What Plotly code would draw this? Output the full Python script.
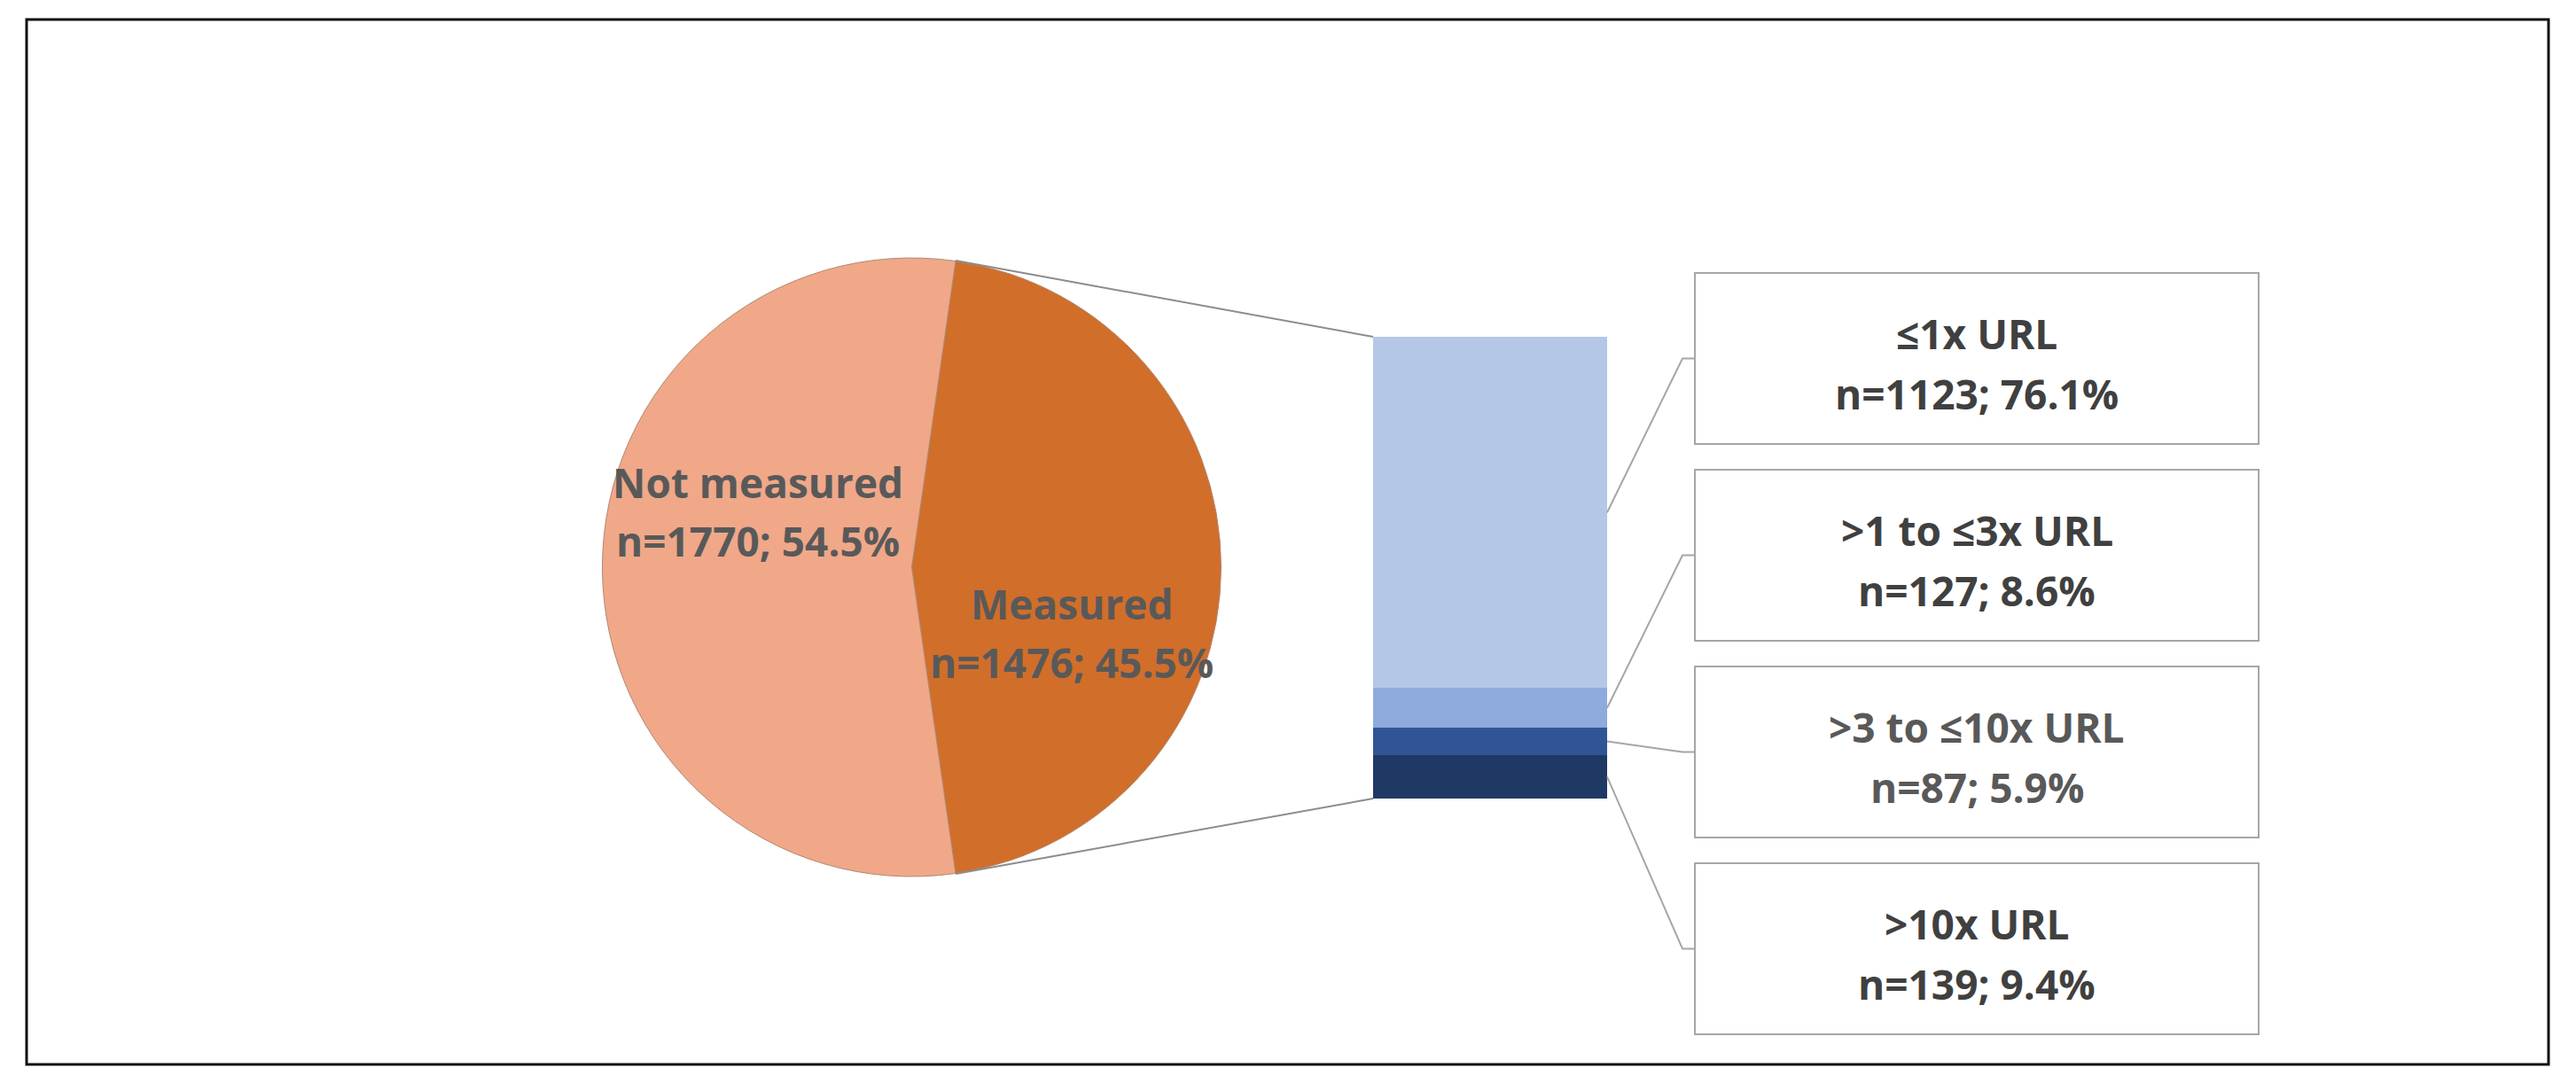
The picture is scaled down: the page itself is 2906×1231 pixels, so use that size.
import math
import plotly.graph_objects as go

# data
pie_labels = ["Measured", "Not measured"]
pie_values = [1476, 1770]
pie_pct = [45.5, 54.5]
pie_colors = ["#D16E2A", "#F0A889"]

bar_labels = ["≤1x URL", ">1 to ≤3x URL", ">3 to ≤10x URL", ">10x URL"]
bar_values = [1123, 127, 87, 139]
bar_pct = [76.1, 8.6, 5.9, 9.4]
bar_colors = ["#B4C7E7", "#8FAADC", "#2F5597", "#203864"]
box_text_colors = ["#404040", "#404040", "#595959", "#404040"]

# the page body has an 8px margin, so the figure is a bit smaller than the window
OFF = 8
W, H = 2906 - 2 * OFF, 1231 - 2 * OFF


def px(x):
    return (x - OFF) / W


def py(y):
    return 1 - (y - OFF) / H


FONT = "Open Sans"
FS = 46

# pie placement (window pixels)
pie_l, pie_r, pie_t, pie_b = 679, 1378, 291, 989
cx, cy = (pie_l + pie_r) / 2, (pie_t + pie_b) / 2
rad = (pie_r - pie_l) / 2

# second plot (bar) placement
bar_l, bar_r, bar_t, bar_b = 1549, 1813, 380, 901

# Excel puts the split-off slice centred at 3 o'clock
rotation = 90 - 0.5 * 360 * pie_values[0] / sum(pie_values)

fig = go.Figure()

fig.add_trace(go.Pie(
    labels=pie_labels, values=pie_values,
    sort=False, direction="clockwise", rotation=rotation,
    marker=dict(colors=pie_colors, line=dict(color="#B08870", width=1)),
    textinfo="none", hoverinfo="label+value",
    domain=dict(x=[px(pie_l), px(pie_r)], y=[py(pie_b), py(pie_t)]),
    showlegend=False,
))

# stacked bar, bottom segment first
for lab, val, col in zip(bar_labels[::-1], bar_values[::-1], bar_colors[::-1]):
    fig.add_trace(go.Bar(
        x=[0], y=[val], name=lab, marker=dict(color=col, line=dict(width=0)),
        width=1, showlegend=False, xaxis="x", yaxis="y",
    ))

total = sum(bar_values)
fig.update_layout(
    width=W, height=H,
    margin=dict(l=0, r=0, t=0, b=0),
    paper_bgcolor="white", plot_bgcolor="rgba(0,0,0,0)",
    barmode="stack", bargap=0,
    xaxis=dict(domain=[px(bar_l), px(bar_r)], range=[-0.5, 0.5], visible=False, fixedrange=True),
    yaxis=dict(domain=[py(bar_b), py(bar_t)], range=[0, total], visible=False, fixedrange=True),
)

shapes = []
annotations = []

# outer frame
shapes.append(dict(type="rect", xref="paper", yref="paper",
                   x0=px(30), x1=px(2875), y0=py(1201), y1=py(22),
                   line=dict(color="#111111", width=3)))

# connectors from the measured slice edges to the bar corners
a0 = math.radians(rotation)
a1 = math.radians(rotation + 360 * pie_values[0] / sum(pie_values))
for ang, by in ((a0, bar_t), (a1, bar_b)):
    ex = cx + rad * math.sin(ang)
    ey = cy - rad * math.cos(ang)
    shapes.append(dict(type="line", xref="paper", yref="paper",
                       x0=px(ex), y0=py(ey), x1=px(bar_l), y1=py(by),
                       line=dict(color="#8C8C8C", width=2)))

# pie labels
pie_label_pos = [(1209, 681, 747), (855, 544, 610)]
for lab, val, pct, (lx, ly1, ly2) in zip(pie_labels, pie_values, pie_pct, pie_label_pos):
    for txt, ly in ((lab, ly1), ("n=%d; %.1f%%" % (val, pct), ly2)):
        annotations.append(dict(x=px(lx), y=py(ly), xref="paper", yref="paper",
                                text=txt, showarrow=False, xanchor="center", yanchor="middle",
                                font=dict(family=FONT, size=FS, color="#595959", weight="bold")))

# label boxes with elbow leader lines
box_l, box_r, box_h, box_step, box_top0 = 1912, 2548, 193, 222, 308
cum = 0
for i, (lab, val, pct, tc) in enumerate(zip(bar_labels, bar_values, bar_pct, box_text_colors)):
    # segment mid point (top segment first, counting down from the top)
    mid_val = total - cum - val / 2
    cum += val
    seg_y = bar_b - (bar_b - bar_t) * mid_val / total
    bt = box_top0 + i * box_step
    bb = bt + box_h
    bmid = (bt + bb) / 2
    shapes.append(dict(type="rect", xref="paper", yref="paper",
                       x0=px(box_l), x1=px(box_r), y0=py(bb), y1=py(bt),
                       line=dict(color="#A6A6A6", width=2), fillcolor="white"))
    elbow_x = box_l - 14
    shapes.append(dict(type="path", xref="paper", yref="paper",
                       path="M %f,%f L %f,%f L %f,%f" % (px(bar_r), py(seg_y), px(elbow_x), py(bmid), px(box_l), py(bmid)),
                       line=dict(color="#A6A6A6", width=2)))
    cx_box = (box_l + box_r) / 2
    for txt, ly in ((lab, bt + 68), ("n=%d; %.1f%%" % (val, pct), bt + 136)):
        annotations.append(dict(x=px(cx_box), y=py(ly), xref="paper", yref="paper",
                                text=txt, showarrow=False, xanchor="center", yanchor="middle",
                                font=dict(family=FONT, size=FS, color=tc, weight="bold")))

fig.update_layout(shapes=shapes, annotations=annotations)

fig.write_html("out.html")
